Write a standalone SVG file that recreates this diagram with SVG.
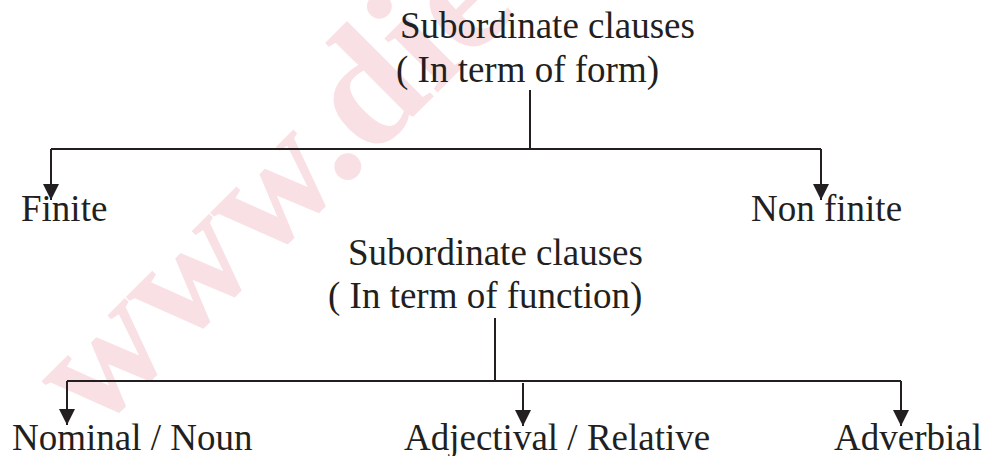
<svg xmlns="http://www.w3.org/2000/svg" width="984" height="456" viewBox="0 0 984 456">
  <style>
    .t { font-family: "Liberation Serif", "Times New Roman", serif; font-size: 37px; fill: #231f20; }
    .c { stroke: #231f20; stroke-width: 2; fill: none; }
    .wm { font-family: "Liberation Serif", "Times New Roman", serif; font-size: 165px; font-weight: bold; fill: #c8102e; fill-opacity: 0.13; }
  </style>
  <defs>
    <marker id="arr" viewBox="0 0 16 16" refX="16" refY="8" markerWidth="16" markerHeight="16" markerUnits="userSpaceOnUse" orient="auto">
      <path d="M0,0 L16,8 L0,16 z" fill="#231f20"/>
    </marker>
  </defs>
  <rect width="984" height="456" fill="#ffffff"/>
  <text class="wm" transform="translate(362,168) rotate(-45)" x="-378" y="0">www.die</text>

  <g id="connectors">
    <path class="c" d="M530,90 V149"/>
    <path class="c" d="M51,149 H821"/>
    <path class="c" d="M51,149 V200" marker-end="url(#arr)"/>
    <path class="c" d="M821,149 V200" marker-end="url(#arr)"/>
    <path class="c" d="M495,318 V381"/>
    <path class="c" d="M67,381 H901"/>
    <path class="c" d="M67,381 V425" marker-end="url(#arr)"/>
    <path class="c" d="M523,383 V426" marker-end="url(#arr)"/>
    <path class="c" d="M901,381 V426" marker-end="url(#arr)"/>
  </g>

  <g id="form-root">
    <text class="t" x="400" y="38">Subordinate clauses</text>
    <text class="t" x="396" y="82">( In term of form)</text>
  </g>
  <g id="finite">
    <text class="t" x="21" y="221">Finite</text>
  </g>
  <g id="non-finite">
    <text class="t" x="751" y="221">Non finite</text>
  </g>
  <g id="function-root">
    <text class="t" x="348" y="265">Subordinate clauses</text>
    <text class="t" x="328" y="308">( In term of function)</text>
  </g>
  <g id="nominal">
    <text class="t" x="12" y="450">Nominal / Noun</text>
  </g>
  <g id="adjectival">
    <text class="t" x="404" y="450">Adjectival / Relative</text>
  </g>
  <g id="adverbial">
    <text class="t" x="834" y="450">Adverbial</text>
  </g>
</svg>
